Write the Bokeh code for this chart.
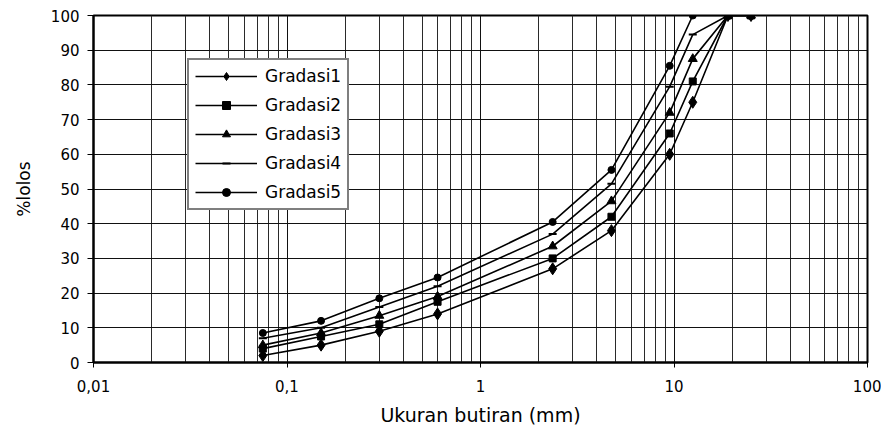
from bokeh.plotting import figure
from bokeh.models import Range1d, FixedTicker, Legend, LegendItem
from bokeh.embed import file_html
from bokeh.resources import INLINE

# --- data -------------------------------------------------------------
sizes = [0.075, 0.15, 0.3, 0.6, 2.36, 4.75, 9.5, 12.5, 19, 25]
gradasi1 = [2, 5, 9, 14, 27, 38, 60, 75, 100, 100]
gradasi2 = [4, 7.5, 11, 17.5, 30, 42, 66, 81, 100, 100]
gradasi3 = [5, 8.5, 13.5, 19, 33.5, 46.5, 72, 87.5, 100, 100]
gradasi4 = [7, 10, 16, 22, 37, 51.5, 79.5, 94.5, 100, 100]
gradasi5 = [8.5, 12, 18.5, 24.5, 40.5, 55.5, 85.5, 100, 100, 100]
series_names = ["Gradasi1", "Gradasi2", "Gradasi3", "Gradasi4", "Gradasi5"]
series_values = [gradasi1, gradasi2, gradasi3, gradasi4, gradasi5]
markers = ["diamond", "square", "triangle", "dash", "circle"]
marker_sizes = [12, 7, 9, 8, 7]

x_ticks = [0.01, 0.1, 1, 10, 100]
x_tick_labels = ["0,01", "0,1", "1", "10", "100"]
x_minor = [k * 10 ** e for e in (-2, -1, 0, 1) for k in range(2, 10)]
y_ticks = list(range(0, 101, 10))

FONT = "DejaVu Sans"

p = figure(
    x_axis_type="log",
    x_range=Range1d(0.01, 100),
    y_range=Range1d(0, 100),
    frame_width=774, frame_height=347,
    min_border_left=93, min_border_right=14, min_border_top=15, min_border_bottom=66,
    output_backend="svg", toolbar_location=None,
    background_fill_color="white", border_fill_color="white",
)

# grid
p.xaxis.ticker = FixedTicker(ticks=x_ticks, minor_ticks=x_minor)
p.yaxis.ticker = FixedTicker(ticks=y_ticks)
p.xaxis.major_label_overrides = {t: l for t, l in zip(x_ticks, x_tick_labels)}
p.xgrid.grid_line_color = "#111111"
p.xgrid.grid_line_width = 1
p.xgrid.minor_grid_line_color = "#2a2a2a"
p.xgrid.minor_grid_line_width = 1
p.ygrid.grid_line_color = "#111111"
p.ygrid.grid_line_width = 1

p.outline_line_color = "black"
p.outline_line_width = 2

for ax in (p.xaxis[0], p.yaxis[0]):
    ax.axis_line_color = "black"
    ax.axis_line_width = 2
    ax.major_tick_line_color = "black"
    ax.major_tick_line_width = 1
    ax.major_tick_in = 0
    ax.major_tick_out = 6
    ax.minor_tick_line_color = None
    ax.major_label_text_font = FONT
    ax.major_label_text_font_size = "15px"
    ax.major_label_text_color = "black"
    ax.axis_label_text_font = FONT
    ax.axis_label_text_font_style = "normal"
    ax.axis_label_text_color = "black"

p.xaxis.axis_label = "Ukuran butiran (mm)"
p.xaxis.axis_label_text_font_size = "19px"
p.xaxis.major_label_standoff = 12
p.xaxis.axis_label_standoff = 9
p.xaxis.major_tick_out = 5

p.yaxis.axis_label = "%lolos"
p.yaxis.axis_label_text_font_size = "17px"
p.yaxis.major_label_standoff = 8
p.yaxis.axis_label_standoff = 14

items = []
for name, vals, mk, ms in zip(series_names, series_values, markers, marker_sizes):
    r1 = p.line(sizes, vals, line_color="black", line_width=1.6)
    r2 = p.scatter(sizes, vals, marker=mk, size=ms, fill_color="black",
                   line_color="black", line_width=2 if mk == "dash" else 1)
    items.append(LegendItem(label=name, renderers=[r1, r2]))

legend = Legend(items=items, location=(94, 152))
legend.border_line_color = "black"
legend.border_line_width = 2
legend.background_fill_color = "white"
legend.background_fill_alpha = 1
legend.label_text_font = FONT
legend.label_text_font_size = "17px"
legend.label_text_color = "black"
legend.glyph_width = 62
legend.glyph_height = 20
legend.label_height = 20
legend.spacing = 9
legend.padding = 6
legend.label_standoff = 8
legend.margin = 0
p.add_layout(legend, "center")

open("out.html", "w").write(file_html(p, INLINE))
